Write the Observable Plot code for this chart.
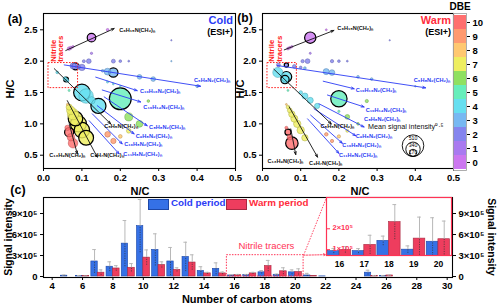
<!DOCTYPE html>
<html><head><meta charset="utf-8">
<script src="https://cdn.jsdelivr.net/npm/d3@7"></script>
<script src="https://cdn.jsdelivr.net/npm/@observablehq/plot@0.6"></script>
<style>
body{margin:0;width:500px;height:306px;position:relative;overflow:hidden;background:#fff;font-family:"Liberation Sans",Arial,sans-serif;}
.box{position:absolute;}
.lbl{position:absolute;font-weight:bold;white-space:nowrap;line-height:1;}
.c{transform:translate(-50%,-50%);}
svg{overflow:visible;}
</style></head><body>
<script>
// ---------- DBE palette ----------
const dbeLevels = [0,1,2,3,4,5,6,7,8,9,10];
const dbeColors = ["#cc77f0","#a97af0","#8585ee","#77b8f2","#66dff0","#66eebb","#8fe060","#eeee60","#ffc870","#ff9a70","#ff6f6f"];

// ---------- panel (a) cold bubbles (size = mean signal intensity^0.5) ----------
const coldNC  = [0.167,0.125,0.0667,0.0714,0.0769,0.125,0.333,0.333,0.0833,0.0769,0.1,0.0909,0.118,0.105,0.182,0.2,0.222,0.1667,0.1818,0.25,0.2857,0.4,0.154,0.1667,0.1818,0.2,0.0357,0.0588,0.0556,0.0625,0.1,0.111,0.143,0.125,0.2,0.273,0.0667,0.222,0.25,0.222,0.167,0.182,0.2,0.0667,0.0714,0.0769,0.0833,0.0909,0.1,0.111,0.0625,0.0769,0.0714,0.0667,0.0625];
const coldHC  = [2.5,2.375,2.2,2.214,2.231,2.125,2.333,2.0,1.917,1.923,1.9,1.909,2.0,2.0,2.0,2.0,2.0,1.833,1.818,1.75,1.714,1.6,1.846,1.667,1.636,1.6,1.821,1.706,1.722,1.6875,1.5,1.444,1.286,1.375,1.4,1.364,1.533,1.111,1.0,0.889,0.833,0.727,0.8,1.267,1.214,1.154,1.083,1.0,0.9,0.778,1.31,0.692,0.786,0.867,0.9375];
const coldDBE = [0,0,0,0,0,1,2,3,2,2,2,2,2,2,2,2,2,3,3,3,3,3,3,4,4,4,4,4,4,4,4,4,4,4,5,6,5,6,6,7,9,9,8,7,7,7,7,7,7,7,8,10,10,10,10];
const coldSize= [64,202,84,71,55,55,32,32,167,143,151,101,111,71,93,64,45,160,220,111,111,64,64,50,45,39,64,113,84,71,391,342,357,175,515,64,50,189,160,111,134,126,87,143,202,267,342,378,364,350,50,226,175,214,124];
const coldEdge= [0,1,0,0,0,0,0,0,1,0,0,0,0,0,0,0,0,0,1,0,0,0,0,0,0,0,0,1,0,0,1,0,1,0,1,0,0,0,0,0,0,0,0,0,0,0,1,1,1,1,0,0,0,1,0];

// ---------- panel (b) warm bubbles ----------
const warmNC  = [0.167,0.125,0.0667,0.0714,0.0769,0.125,0.333,0.0417,0.0625,0.0833,0.1,0.105,0.118,0.182,0.2,0.222,0.1667,0.1818,0.25,0.2857,0.4,0.111,0.04,0.0625,0.0588,0.1,0.111,0.125,0.143,0.2,0.273,0.0667,0.2,0.222,0.25,0.222,0.167,0.182,0.2,0.0667,0.0714,0.0769,0.0833,0.0909,0.1,0.111,0.0625,0.0769,0.0714,0.0667,0.0625];
const warmHC  = [2.5,2.375,2.2,2.214,2.231,2.125,2.333,1.94,1.9375,1.917,1.9,2.0,2.0,2.0,2.0,2.0,1.833,1.818,1.75,1.714,1.6,1.889,1.82,1.75,1.706,1.5,1.444,1.375,1.286,1.4,1.364,1.533,1.2,1.111,1.0,0.889,0.833,0.727,0.8,1.267,1.214,1.154,1.083,1.0,0.9,0.778,1.31,0.692,0.786,0.867,0.9375];
const warmDBE = [0,0,0,0,0,1,2,2,2,2,2,2,2,2,2,2,3,3,3,3,3,3,4,4,4,4,4,4,4,5,6,5,5,6,6,7,9,9,8,7,7,7,7,7,7,7,8,10,10,10,10];
const warmSize= [45,267,64,64,55,50,32,93,101,87,64,78,113,78,64,45,143,134,64,64,39,64,237,252,196,87,143,143,124,385,78,45,55,113,64,71,84,78,78,87,113,151,167,175,175,151,45,294,124,143,71];
const warmEdge= [0,1,0,0,0,0,0,0,1,0,0,0,0,0,0,0,0,0,0,0,0,0,0,1,1,0,0,0,0,1,0,0,0,0,0,0,0,0,0,0,0,0,0,0,0,0,0,1,0,1,0];

// ---------- homologous series arrows & labels ----------
const seriesNames = ["C₆H₁₅N(CH₂)ₙ","C₅H₈N₂(CH₂)ₙ","C₁₀H₁₆N₂(CH₂)ₙ","C₁₀H₁₄N₂(CH₂)ₙ","C₈H₈N₂(CH₂)ₙ","C₉H₈N₂(CH₂)ₙ","C₁₀H₈N₂(CH₂)ₙ","C₁₁H₈N₂(CH₂)ₙ","C₅H₅N(CH₂)ₙ","C₉H₇N(CH₂)ₙ","C₁₃H₉N(CH₂)ₙ"];
const seriesBlue  = [0,1,1,1,1,1,1,1,0,0,0];
const coldArrowX1 = [0.058,0.054,0.136,0.153,0.158,0.140,0.127,0.119,0.028,0.062,0.067];
const coldArrowY1 = [2.17,1.94,1.745,1.54,1.43,1.29,1.16,1.05,1.88,1.37,1.0];
const coldArrowX2 = [0.184,0.409,0.244,0.253,0.270,0.236,0.205,0.197,0.175,0.140,0.088];
const coldArrowY2 = [2.52,1.60,1.53,1.35,0.97,0.84,0.68,0.52,1.0,0.47,0.52];
const coldLabelX  = [0.197,0.392,0.251,0.260,0.275,0.240,0.210,0.208,0.158,0.122,0.015];
const coldLabelY  = [2.50,1.69,1.52,1.26,0.95,0.81,0.67,0.52,0.97,0.50,0.50];
const warmArrowX1 = [0.057,0.039,0.159,0.170,0.148,0.135,0.126,0.118,0.030,0.070,0.074];
const warmArrowY1 = [2.18,1.93,1.68,1.46,1.32,1.24,1.14,1.08,1.87,1.27,0.92];
const warmArrowX2 = [0.187,0.427,0.240,0.266,0.266,0.244,0.209,0.200,0.180,0.144,0.087];
const warmArrowY2 = [2.49,1.575,1.56,1.27,0.95,0.81,0.69,0.53,1.0,0.47,0.51];
const warmLabelX  = [0.196,0.396,0.244,0.270,0.266,0.244,0.209,0.200,0.152,0.122,0.013];
const warmLabelY  = [2.52,1.70,1.53,1.22,1.07,0.80,0.667,0.506,0.97,0.38,0.41];

const nitrileBoxAB = {x1:0.013, x2:0.09, y1:1.57, y2:1.97};
const sizeLegend = [510,340,170];

// ---------- panel (c) bars ----------
const carbon   = [4,5,6,7,8,9,10,11,12,13,14,15,16,17,18,19,20,21,22,23,24,25,26,27,28,29,30];
const coldMean = [0,0.12,0.1,2.15,1.4,4.7,7.2,3.8,2.15,2.8,0.8,1.1,0.15,0.2,0.6,0.25,0.6,0.15,0.02,0,0,0.55,0.1,0,0,0,0];
const coldErr  = [0,0.1,0.05,1.7,0.7,3.3,3.8,2.3,2.0,2.1,0.6,0.85,0.1,0.1,0.25,0.1,0.35,0.3,0,0,0,0.35,0.05,0,0,0,0];
const warmMean = [0,0,0.05,0.55,1.15,1.25,2.7,1.65,0.95,2.0,0.45,0.45,0.2,0.45,1.5,0.75,0.65,0.05,0,0,0,0.1,0.15,0,0,0,0];
const warmErr  = [0,0,0.03,0.4,0.4,0.6,1.1,0.45,0.3,1.1,0.15,0.2,0.1,0.15,0.8,0.5,0.45,0,0,0,0,0.05,0.05,0,0,0,0];
const yTicksC  = [0,3e5,6e5,9e5];
const xTicksC  = [4,6,8,10,12,14,16,18,20,22,24,26,28,30];
const nitrileBoxC = {x1:15.5, x2:20.55, y1:0, y2:3.05e5};

// inset (nitrile tracers)
const insetCarbon  = [16,17,18,19,20];
const insetCold    = [0.93,0.93,1.42,1.0,1.38];
const insetColdErr = [0.12,0.12,0.23,0.18,1.15];
const insetWarm    = [0.99,1.23,2.32,1.53,1.5];
const insetWarmErr = [0.16,0.46,0.84,1.03,0.87];
const insetYTicks  = [1e5,2e5];

const BLUE="#2b3cf5", RED="#ff2d3d", COLDBAR="#3571e6", WARMBAR="#ee3d5e";
const FONT='"Liberation Sans", Arial, sans-serif';
const sup = d => d===0 ? "0" : `${d/1e5}×10⁵`;
const RMAX = 10.8;

function place(node, left, top){
  const d=document.createElement("div"); d.className="box"; d.style.left=left+"px"; d.style.top=top+"px";
  d.appendChild(node); document.body.appendChild(d);
}
function label(text, x, y, opts={}){
  const d=document.createElement("div"); d.className="lbl"+(opts.center===false?"":" c");
  d.textContent=text; d.style.left=x+"px"; d.style.top=y+"px";
  d.style.fontSize=(opts.size||11)+"px"; d.style.color=opts.color||"#000";
  if(opts.rotate) d.style.transform=`translate(-50%,-50%) rotate(${opts.rotate}deg)`;
  if(opts.weight) d.style.fontWeight=opts.weight;
  if(opts.right!=null){ d.style.left="auto"; d.style.right=(500-opts.right)+"px"; d.classList.remove("c"); }
  document.body.appendChild(d); return d;
}

function bubbles(NC,HC,DBE,S,E){
  return NC.map((x,i)=>({nc:x,hc:HC[i],dbe:DBE[i],s:S[i],edge:E[i]})).sort((a,b)=>b.s-a.s);
}
function series(X1,Y1,X2,Y2,LX,LY){
  return seriesNames.map((n,i)=>({name:n,x1:X1[i],y1:Y1[i],x2:X2[i],y2:Y2[i],lx:LX[i],ly:LY[i],c:seriesBlue[i]?BLUE:"#111"}));
}

function scatter({width, marginLeft, marginRight, bub, ser, legend}){
  const marks = [
    Plot.frame({stroke:"#000", strokeWidth:1.1}),
    Plot.axisX({ticks:[0,0.1,0.2,0.3,0.4,0.5], tickFormat:d3.format(".1f"), tickSize:3, tickPadding:3, label:null}),
    Plot.axisY({ticks:[0.5,1,1.5,2,2.5], tickFormat:d3.format(".1f"), tickSize:3, tickPadding:3, label:null}),
    Plot.dot(bub, {x:"nc", y:"hc", r:"s", fill:d=>dbeColors[d.dbe], fillOpacity:0.82,
      stroke:d=>d.edge? "#000" : d3.color(dbeColors[d.dbe]).darker(0.9).formatHex(),
      strokeWidth:d=>d.edge?1.2:0.5}),
    Plot.rect([nitrileBoxAB], {x1:"x1",x2:"x2",y1:"y1",y2:"y2", fill:"none", stroke:"#ff2222", strokeWidth:1, strokeDasharray:"1.6,1.4"}),
    Plot.text(["Nitrile\ntracers"], {x:()=>nitrileBoxAB.x1+0.022, y:()=>nitrileBoxAB.y2+0.02, text:d=>d, rotate:-90, textAnchor:"start", fill:"#ff2222", fontSize:7.8, fontWeight:"bold", lineHeight:1.0}),
    Plot.arrow(ser, {x1:"x1",y1:"y1",x2:"x2",y2:"y2", stroke:"c", strokeWidth:0.9, headLength:5, headAngle:40}),
    Plot.text(ser, {x:"lx", y:"ly", text:"name", fill:"c", textAnchor:"start", fontSize:5.6, fontWeight:"bold"})
  ];
  if(legend){
    for(const v of sizeLegend){
      const r = RMAX*v/510;
      marks.push(Plot.dot([v], {x:()=>0.394, y:()=>0.48, r:d=>d, dy:-r, fill:"none", stroke:"#000", strokeWidth:0.9}));
      marks.push(Plot.text([v], {x:()=>0.394, y:()=>0.48, text:d=>String(d), dy:-2*r+3.4, fontSize:5.2, fontWeight:"normal", fill:"#000"}));
    }
    marks.push(Plot.text(["Mean signal intensity⁰·⁵"], {x:()=>0.474, y:()=>0.95, text:d=>d, textAnchor:"end", fontSize:7.2, fontWeight:"normal", fill:"#111"}));
  }
  return Plot.plot({
    width, height:190, marginLeft, marginRight, marginTop:13, marginBottom:22,
    x:{domain:[0,0.5]}, y:{domain:[0.288,2.76]},
    r:{type:"linear", domain:[0,510], range:[0,RMAX]},
    color:{type:"identity"},
    style:{fontFamily:FONT, fontSize:"9.5px", fontWeight:"bold", background:"transparent", overflow:"visible"},
    marks
  });
}

// panel a
place(scatter({width:240, marginLeft:43, marginRight:5,
  bub:bubbles(coldNC,coldHC,coldDBE,coldSize,coldEdge),
  ser:series(coldArrowX1,coldArrowY1,coldArrowX2,coldArrowY2,coldLabelX,coldLabelY), legend:false}), 0, 0);
// panel b
place(scatter({width:222, marginLeft:30, marginRight:1,
  bub:bubbles(warmNC,warmHC,warmDBE,warmSize,warmEdge),
  ser:series(warmArrowX1,warmArrowY1,warmArrowX2,warmArrowY2,warmLabelX,warmLabelY), legend:true}), 232, 0);

// colorbar
place(Plot.plot({
  width:47, height:180, marginTop:13, marginBottom:10, marginLeft:0, marginRight:34,
  x:{type:"band", domain:["c"], padding:0, axis:null},
  y:{type:"band", domain:[...dbeLevels].reverse(), padding:0},
  color:{type:"identity"},
  style:{fontFamily:FONT, fontSize:"9.5px", fontWeight:"bold", background:"transparent", overflow:"visible"},
  marks:[
    Plot.cell(dbeLevels, {x:()=>"c", y:d=>d, fill:d=>dbeColors[d]}),
    Plot.frame({stroke:"#999", strokeWidth:0.8}),
    Plot.axisY({anchor:"right", tickSize:3, tickPadding:3, label:null})
  ]
}), 453, 0);

// panel c
const barCold = carbon.map((c,i)=>({c, v:coldMean[i]*1e5, e:coldErr[i]*1e5}));
const barWarm = carbon.map((c,i)=>({c, v:warmMean[i]*1e5, e:warmErr[i]*1e5}));
function errMarks(data, off, capHalf){
  const d = data.filter(o=>o.e>0);
  return [
    Plot.ruleX(d, {x:o=>o.c+off, y1:"v", y2:o=>o.v+o.e, stroke:"#b8b8b8", strokeWidth:1}),
    Plot.ruleY(d, {y:o=>o.v+o.e, x1:o=>o.c+off-capHalf, x2:o=>o.c+off+capHalf, stroke:"#b8b8b8", strokeWidth:1}),
    Plot.ruleX(d, {x:o=>o.c+off, y1:o=>Math.max(0,o.v-o.e), y2:"v", stroke:"#333", strokeWidth:0.7, strokeDasharray:"1.2,1.2"})
  ];
}
place(Plot.plot({
  width:500, height:116, marginTop:7, marginBottom:29, marginLeft:43, marginRight:48,
  x:{domain:[3.43,30.35]}, y:{domain:[-0.14e5,11.29e5]},
  style:{fontFamily:FONT, fontSize:"9.5px", fontWeight:"bold", background:"transparent", overflow:"visible"},
  marks:[
    Plot.rect(barCold, {x1:o=>o.c-0.42, x2:o=>o.c, y1:0, y2:"v", fill:COLDBAR, stroke:"#1d48a8", strokeWidth:0.6}),
    Plot.rect(barWarm, {x1:o=>o.c, x2:o=>o.c+0.44, y1:0, y2:"v", fill:WARMBAR, stroke:"#a82a42", strokeWidth:0.6}),
    ...errMarks(barCold, -0.21, 0.12),
    ...errMarks(barWarm, 0.22, 0.12),
    Plot.rect([nitrileBoxC], {x1:"x1",x2:"x2",y1:"y1",y2:"y2", fill:"none", stroke:"#ff3355", strokeWidth:1, strokeDasharray:"1.5,1.3"}),
    Plot.link([nitrileBoxC], {x1:"x2", y1:"y2", x2:()=>22.06, y2:()=>11.29e5, stroke:"#ff3355", strokeWidth:0.9, strokeDasharray:"1.5,1.3"}),
    Plot.arrow([nitrileBoxC], {x1:"x2", y1:"y2", x2:()=>22.0, y2:()=>3.12e5, stroke:"#ff3355", strokeWidth:0.9, strokeDasharray:"1.5,1.3", headLength:4, headAngle:50}),
    Plot.text(["Nitrile tracers"], {x:()=>18.1, y:()=>4.3e5, text:d=>d, fill:"#ff3355", fontSize:9.5, fontWeight:"normal"}),
    Plot.frame({stroke:"#000", strokeWidth:1.1}),
    Plot.axisX({ticks:xTicksC, tickSize:3, tickPadding:2, label:null}),
    Plot.axisY({anchor:"left", ticks:yTicksC, tickFormat:sup, tickSize:3, tickPadding:3, label:null}),
    Plot.axisY({anchor:"right", ticks:yTicksC, tickFormat:sup, tickSize:3, tickPadding:3, label:null})
  ]
}), 0, 190);

// inset
const insCold = insetCarbon.map((c,i)=>({c, v:insetCold[i]*1e5, e:insetColdErr[i]*1e5}));
const insWarm = insetCarbon.map((c,i)=>({c, v:insetWarm[i]*1e5, e:insetWarmErr[i]*1e5}));
place(Plot.plot({
  width:135, height:80, marginTop:2, marginBottom:20, marginLeft:6, marginRight:4,
  x:{domain:[15.47,20.53]}, y:{domain:[0.72e5,3.5e5]},
  style:{fontFamily:FONT, fontSize:"8.5px", fontWeight:"bold", background:"transparent", overflow:"visible"},
  marks:[
    Plot.frame({fill:"#fff"}),
    Plot.rect(insCold, {x1:o=>o.c-0.47, x2:o=>o.c, y1:0, y2:"v", fill:COLDBAR, stroke:"#1d48a8", strokeWidth:0.6, clip:true}),
    Plot.rect(insWarm, {x1:o=>o.c, x2:o=>o.c+0.47, y1:0, y2:"v", fill:WARMBAR, stroke:"#a82a42", strokeWidth:0.6, clip:true}),
    Plot.ruleX(insCold, {x:o=>o.c-0.235, y1:"v", y2:o=>o.v+o.e, stroke:"#b8b8b8"}),
    Plot.ruleY(insCold, {y:o=>o.v+o.e, x1:o=>o.c-0.31, x2:o=>o.c-0.16, stroke:"#b8b8b8"}),
    Plot.ruleX(insCold, {x:o=>o.c-0.235, y1:o=>o.v-o.e, y2:"v", stroke:"#333", strokeWidth:0.7, strokeDasharray:"1.2,1.2", clip:true}),
    Plot.ruleX(insWarm, {x:o=>o.c+0.235, y1:"v", y2:o=>o.v+o.e, stroke:"#b8b8b8"}),
    Plot.ruleY(insWarm, {y:o=>o.v+o.e, x1:o=>o.c+0.16, x2:o=>o.c+0.31, stroke:"#b8b8b8"}),
    Plot.ruleX(insWarm, {x:o=>o.c+0.235, y1:o=>o.v-o.e, y2:"v", stroke:"#333", strokeWidth:0.7, strokeDasharray:"1.2,1.2", clip:true}),
    Plot.frame({stroke:"#ff3355", strokeWidth:1.2}),
    Plot.axisX({ticks:insetCarbon, tickFormat:d3.format("d"), tickSize:0, tickPadding:5, label:null}),
    Plot.axisY({anchor:"left", ticks:insetYTicks, tickSize:-4, tickFormat:()=>"", stroke:"#ff3355", label:null}),
    Plot.text(insetYTicks, {y:d=>d, frameAnchor:"left", dx:6, dy:-1, textAnchor:"start", text:sup, fill:"#ff3355", fontSize:7.5, fontWeight:"bold"})
  ]
}), 320, 195);

// ---------- text annotations ----------
label("(a)", 15, 19, {size:12});
label("(b)", 245, 18, {size:12});
label("(c)", 18, 190, {size:12.5});
label("H/C", 10, 89, {size:11, rotate:-90});
label("H/C", 240, 89, {size:11, rotate:-90});
label("N/C", 140, 191, {size:11});
label("N/C", 360, 191, {size:11});
label("Cold", 0, 15, {size:11, color:BLUE, right:233});
label("(ESI+)", 0, 28, {size:9, right:233});
label("Warm", 0, 15, {size:11, color:RED, right:451});
label("(ESI+)", 0, 28, {size:9, right:451});
label("DBE", 460, 7, {size:10});
label("Signal intensity", 8, 237, {size:10.5, rotate:-90});
label("Signal intensity", 492, 237, {size:10.5, rotate:90});
label("Number of carbon atoms", 247, 299, {size:11});
// bar legend
const sw1=document.createElement("div"); sw1.className="box"; Object.assign(sw1.style,{left:"148px",top:"199px",width:"19px",height:"9px",background:COLDBAR,border:"0.8px solid #1d48a8"}); document.body.appendChild(sw1);
const sw2=document.createElement("div"); sw2.className="box"; Object.assign(sw2.style,{left:"226px",top:"199px",width:"19px",height:"9px",background:WARMBAR,border:"0.8px solid #a82a42"}); document.body.appendChild(sw2);
label("Cold period", 171, 198, {size:9.8, color:BLUE, center:false});
label("Warm period", 249, 198, {size:9.8, color:RED, center:false});
</script>
</body></html>
